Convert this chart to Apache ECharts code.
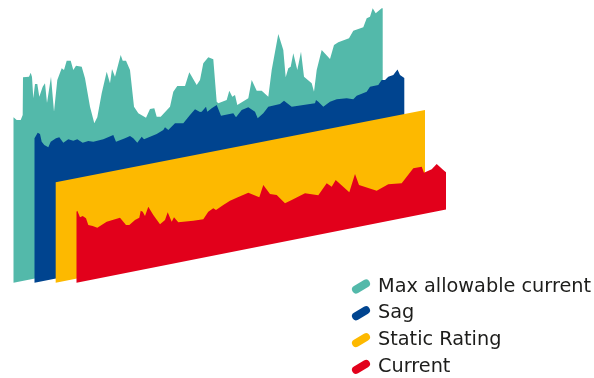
<!DOCTYPE html>
<html>
<head>
<meta charset="utf-8">
<style>html,body{margin:0;padding:0;background:#fff}#chart{width:594px;height:378px}</style>
<script src="https://cdn.jsdelivr.net/npm/echarts@6/dist/echarts.min.js"></script>
</head>
<body>
<div id="chart"></div>
<script>
// Sample positions and levels for each layer of the staggered area plot.
const maxCurrentPos = [13.5,16.7,20.7,22.7,23,29,30.7,32,33.3,35,37.3,39.3,42.7,45,47,51,54,57.3,61.7,64,66.7,70.7,73.3,76,81.7,85,90,94.3,97.3,101.7,106.7,110,112,115,120.7,122.7,126,130,134,138.3,146,150,154.3,156.7,160.7,170,173.3,177.3,185,189.3,196.7,200,203.3,208.3,213.3,216.7,218.3,226.7,229.3,232.3,235,237.3,248.3,251.7,256.7,261.7,268.3,271.7,278.3,283.3,285.7,288.3,290.7,293.3,297.3,301,304,311.7,314,316.7,321.7,330,334,338.3,349,353.3,363.3,366.7,370,372.7,375.7,381.7,382.7];
const maxCurrent = [260.7,258,258,263,300.7,301.3,305.3,301,279.7,294,294,281.3,291.3,294.7,275,301.3,266.3,298,309.7,308,317.3,317.3,308,312.3,311.3,299.7,271.3,254.7,260.7,284.7,306.3,294.7,309,301.3,323,317.3,317.3,308,271.3,264.7,260.3,269,269.7,261.3,261.3,271.3,286.3,292,292,305.7,293,298,314.7,320.7,318.7,276.3,274.7,278,287.3,281.3,283,273,279.7,298,287.3,287.3,281.3,308,344,328,300.7,309.7,311.3,324.7,308,326.3,301.3,294.7,286.3,308,328,319,333,335.7,339.7,347.3,350.7,359.7,361.3,369.7,364.7,369.7,369.7];

const sagPos = [34.5,37.7,40,41.7,44.3,48.3,50.7,56,59.3,63.3,68.3,73.3,77.3,82.7,88.3,93.3,103.3,113.3,116,125,130,133.3,137.3,141.7,144,156.7,163.3,165,168.3,175,183.3,190,195,200,201.7,206,207.3,211.7,216.7,221,233.3,236,241.7,248.3,255,257.7,263.3,268.3,280,284,291.7,315,316,318.3,323.3,330,336.7,346.7,353.3,356.7,366.7,370,378.3,381.7,385,388.3,393.3,397.5,400,404.3];
const sag = [239.7,245.3,244,236.3,233,230.7,236.3,239.7,240.7,235.3,238.7,237.3,238.7,235.3,237,236.3,238.7,243,236.3,239.7,242,239.7,235.3,241.3,238.7,244,248,250.7,248,254.7,254.7,263,268.7,266,266.3,271.3,266.3,269.7,273,262.3,264.7,260.7,268,270.7,266.3,259.7,264.7,271.3,274,277.3,271.3,274.7,278,276.3,271.3,276.3,278.7,279.7,278.7,282.3,286.3,291.3,293,298,298,301.3,303,308.5,303,300];

const staticRatingPos = [55.7,425];
const staticRating = [195.7,268];

const currentPos = [76.5,77.3,80,82.7,86,88.3,92.7,97.3,106.7,115,120,126,129.3,135,139.3,140.7,142.7,145,148.3,153.3,160,165,167.7,171.7,174,178.3,193.3,203.3,208.3,213.3,216,223.3,230,236.7,248.3,259.3,263.3,270,276.7,285,291.7,305,318.3,326.7,331.7,335.7,349.3,355,359,376.7,388.3,401.7,413.3,421.7,424,431.7,436.7,443.3,446];
const current = [166.3,167.3,160.7,162,159.7,153,152,150.3,156.3,158.7,160.3,153,153,158,160.3,167.3,166.3,162,171.3,163,153.7,158,165.7,156.3,160.7,155.7,157.3,158.7,166.3,169.7,168,173,177.3,180.3,185.3,180.7,193,184,183,174.7,178,184.7,182.7,194.7,191.3,198,185.7,204,193,187.3,193.7,194.7,209.7,211.3,205.3,208.7,214,208,205.7];

const seriesNames = ['Max allowable current','Sag','Static Rating','Current'];
const seriesColors = ['#53b9aa','#00448f','#fdb900','#e2001b'];

// Every layer stands on the same rising floor, starting at its own first position.
const floorStart = 95.3;
const floorRise = 0.198;

function layer(name, color, positions, levels) {
  const x0 = positions[0];
  const x1 = positions[positions.length - 1];
  return {
    type: 'custom',
    name: name,
    silent: true,
    clip: false,
    itemStyle: { color: color },
    data: positions.map((p, i) => [p, levels[i]]),
    renderItem: function (params, api) {
      if (params.dataIndex !== 0) return null;
      const outline = positions.map((p, i) => api.coord([p, levels[i]]));
      outline.push(api.coord([x1, floorStart + floorRise * (x1 - x0)]));
      outline.push(api.coord([x0, floorStart]));
      return { type: 'polygon', shape: { points: outline }, style: { fill: color } };
    }
  };
}

const capsule = 'path://M6.06 13.43L16.06 7.43A4 4 0 0 0 11.94 .57L1.94 6.57A4 4 0 0 0 6.06 13.43Z';

const chart = echarts.init(document.getElementById('chart'), null, { renderer: 'canvas' });
chart.setOption({
  animation: false,
  backgroundColor: '#ffffff',
  grid: { left: 0, right: 0, top: 0, bottom: 0 },
  xAxis: { type: 'value', min: 0, max: 594, show: false },
  yAxis: { type: 'value', min: 0, max: 378, show: false },
  legend: {
    orient: 'vertical',
    left: 352,
    top: 276,
    height: 102,
    width: 242,
    padding: 0,
    itemGap: 5.8,
    itemWidth: 18,
    itemHeight: 14,
    icon: capsule,
    selectedMode: false,
    data: seriesNames,
    textStyle: {
      fontFamily: 'DejaVu Sans',
      fontSize: 19.3,
      lineHeight: 21,
      color: '#1d1d1b',
      padding: [0, 0, 0, 3]
    }
  },
  series: [
    layer(seriesNames[0], seriesColors[0], maxCurrentPos, maxCurrent),
    layer(seriesNames[1], seriesColors[1], sagPos, sag),
    layer(seriesNames[2], seriesColors[2], staticRatingPos, staticRating),
    layer(seriesNames[3], seriesColors[3], currentPos, current)
  ]
});
</script>
</body>
</html>
